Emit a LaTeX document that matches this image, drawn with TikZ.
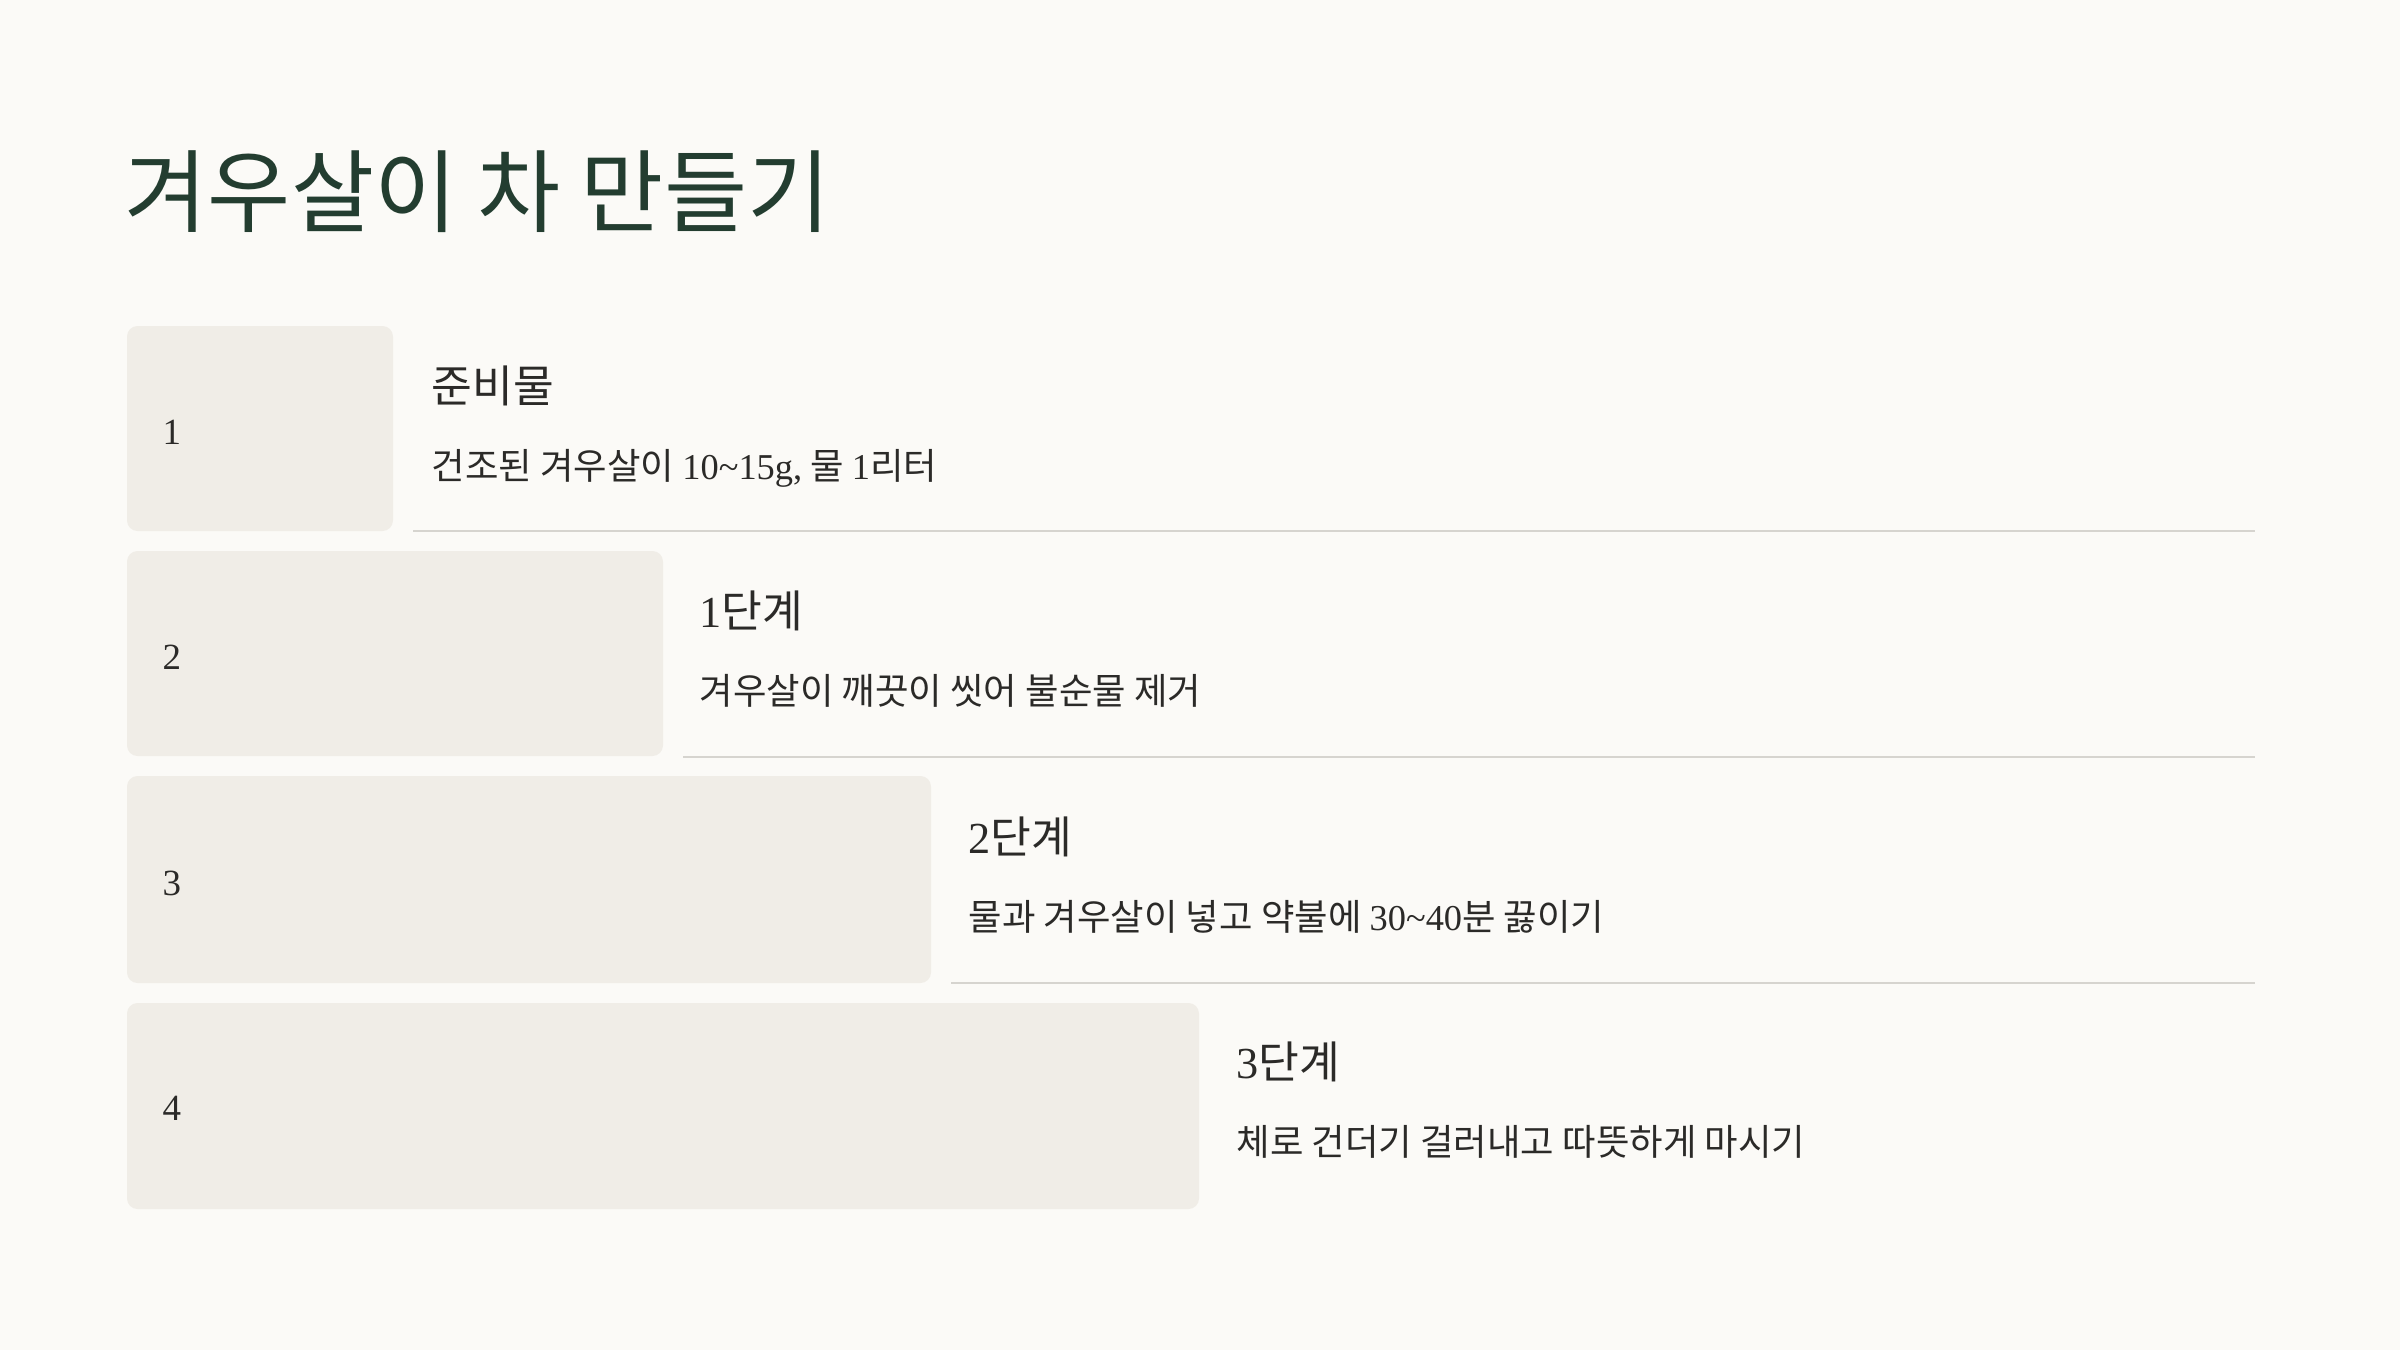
\documentclass[tikz,border=0pt]{standalone}
\usepackage{fontspec}
\setmainfont{Noto Sans CJK KR}
\newfontfamily\kr{Noto Sans CJK KR}
\newfontfamily\lat{Liberation Serif}
\definecolor{bg}{HTML}{FBFAF7}
\definecolor{boxc}{HTML}{F0EDE7}
\definecolor{rule}{HTML}{D6D4CF}
\definecolor{titlec}{HTML}{233D30}
\definecolor{txt}{HTML}{2B2A28}
\tikzset{
  stepbox/.style={fill=boxc, draw=none, rounded corners=3pt},
  numtxt/.style={anchor=base west, inner sep=0pt, text=txt, font=\lat\fontsize{10.5pt}{12pt}\selectfont},
  headtxt/.style={anchor=base west, inner sep=0pt, text=txt, font=\kr\fontsize{12.6pt}{14pt}\selectfont},
  desctxt/.style={anchor=base west, inner sep=0pt, text=txt, font=\kr\fontsize{10.35pt}{12pt}\selectfont},
  sepline/.style={draw=rule, line width=0.8pt}
}
\begin{document}
\begin{tikzpicture}[x=0.01cm,y=-0.01cm]
\fill[bg] (0,0) rectangle (2400,1350);
\useasboundingbox (0,0) rectangle (2400,1350);
\node[anchor=base west, inner sep=0pt, text=titlec, font=\kr\fontsize{25.7pt}{30pt}\selectfont] (title) at (124,225) {겨우살이 차 만들기};
% row 1
\path[stepbox] (127,326) rectangle (393,531);
\node[numtxt] (n1) at (162,444) {1};
\node[headtxt] (h1) at (431,402) {준비물};
\node[desctxt] (d1) at (431,479) {건조된 겨우살이 {\lat 10\textasciitilde15g,} 물 {\lat 1}리터};
\coordinate (l1a) at (413,531); \coordinate (l1b) at (2255,531);
\draw[sepline] (l1a) -- (l1b);
% row 2
\path[stepbox] (127,551) rectangle (663,756);
\node[numtxt] (n2) at (162,669) {2};
\node[headtxt] (h2) at (699,627) {{\lat 1}단계};
\node[desctxt] (d2) at (699,704) {겨우살이 깨끗이 씻어 불순물 제거};
\coordinate (l2a) at (683,757); \coordinate (l2b) at (2255,757);
\draw[sepline] (l2a) -- (l2b);
% row 3
\path[stepbox] (127,776) rectangle (931,983);
\node[numtxt] (n3) at (162,895) {3};
\node[headtxt] (h3) at (968,853) {{\lat 2}단계};
\node[desctxt] (d3) at (968,930) {물과 겨우살이 넣고 약불에 {\lat 30\textasciitilde40}분 끓이기};
\coordinate (l3a) at (951,983); \coordinate (l3b) at (2255,983);
\draw[sepline] (l3a) -- (l3b);
% row 4
\path[stepbox] (127,1003) rectangle (1199,1209);
\node[numtxt] (n4) at (162,1120) {4};
\node[headtxt] (h4) at (1236,1078) {{\lat 3}단계};
\node[desctxt] (d4) at (1236,1155) {체로 건더기 걸러내고 따뜻하게 마시기};
\end{tikzpicture}
\end{document}
